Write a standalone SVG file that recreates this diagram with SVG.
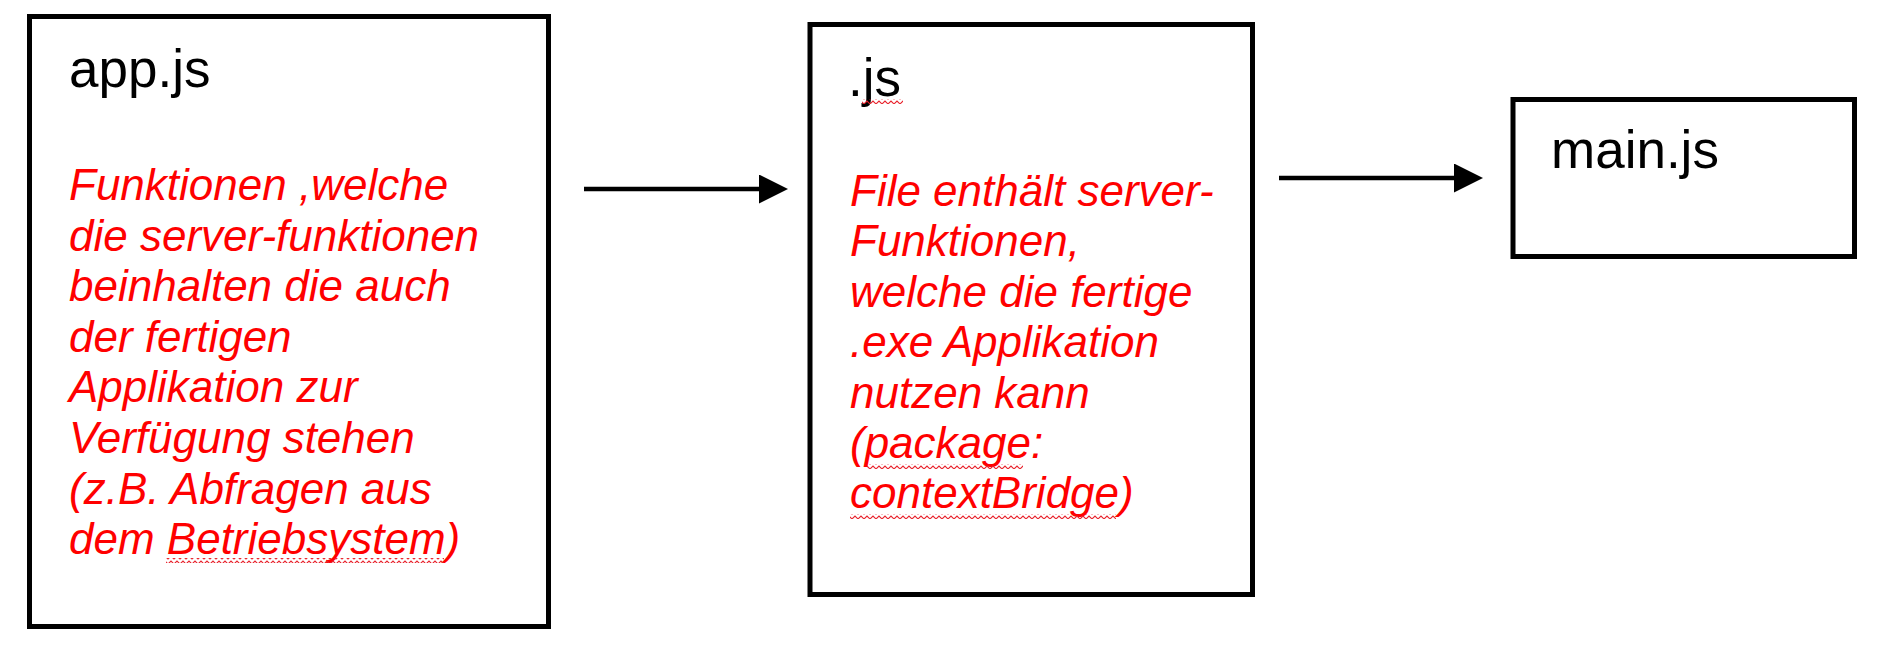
<svg xmlns="http://www.w3.org/2000/svg" width="1890" height="665" viewBox="0 0 1890 665">
  <style>
    .box { fill: #ffffff; stroke: #000000; stroke-width: 5; }
    .title { font-family: "Liberation Sans", Arial, sans-serif; font-size: 53px; fill: #000000; }
    .desc { font-family: "Liberation Sans", Arial, sans-serif; font-size: 44px; font-style: italic; fill: #ff0000; }
    .conn { stroke: #000000; stroke-width: 4.5; fill: none; }
  </style>
  <defs>
    <marker id="arrowhead" markerUnits="userSpaceOnUse" markerWidth="30" markerHeight="30" refX="0" refY="14.5" orient="auto">
      <path d="M0,0 L29,14.5 L0,29 Z" fill="#000000"/>
    </marker>
    <pattern id="wave" patternUnits="userSpaceOnUse" width="6" height="5">
      <path d="M-1.5,2.5 L0,4 L3,1 L6,4 L7.5,2.5" stroke="#e8202a" stroke-width="1.1" fill="none"/>
    </pattern>
  </defs>
  <rect width="1890" height="665" fill="#ffffff"/>

  <g id="node-app">
    <rect class="box" x="29.5" y="16.5" width="519" height="610"/>
    <text class="title" x="69" y="87">app.js</text>
    <text class="desc" x="69" y="200">Funktionen ,welche</text>
    <text class="desc" x="69" y="250.6">die server-funktionen</text>
    <text class="desc" x="69" y="301.2">beinhalten die auch</text>
    <text class="desc" x="69" y="351.8">der fertigen</text>
    <text class="desc" x="69" y="402.4">Applikation zur</text>
    <text class="desc" x="69" y="453">Verfügung stehen</text>
    <text class="desc" x="69" y="503.6">(z.B. Abfragen aus</text>
    <text class="desc" x="69" y="554.2">dem Betriebsystem)</text>
    <rect x="166" y="558" width="278" height="5" fill="url(#wave)"/>
  </g>

  <g id="node-preload">
    <rect class="box" x="810" y="24.5" width="442.5" height="570"/>
    <text class="title" x="848" y="96">.js</text>
    <rect x="862" y="99" width="41" height="5" fill="url(#wave)"/>
    <text class="desc" x="850" y="206">File enthält server-</text>
    <text class="desc" x="850" y="256.4">Funktionen,</text>
    <text class="desc" x="850" y="306.8">welche die fertige</text>
    <text class="desc" x="850" y="357.2">.exe Applikation</text>
    <text class="desc" x="850" y="407.6">nutzen kann</text>
    <text class="desc" x="850" y="458">(package:</text>
    <rect x="867" y="464" width="156" height="5" fill="url(#wave)"/>
    <text class="desc" x="850" y="508.4">contextBridge)</text>
    <rect x="850" y="514" width="266" height="5" fill="url(#wave)"/>
  </g>

  <g id="node-main">
    <rect class="box" x="1513" y="99.5" width="341.5" height="157"/>
    <text class="title" x="1551" y="168">main.js</text>
  </g>

  <g id="connectors">
    <line class="conn" x1="584" y1="189" x2="759" y2="189" marker-end="url(#arrowhead)"/>
    <line class="conn" x1="1279" y1="178" x2="1454" y2="178" marker-end="url(#arrowhead)"/>
  </g>
</svg>
